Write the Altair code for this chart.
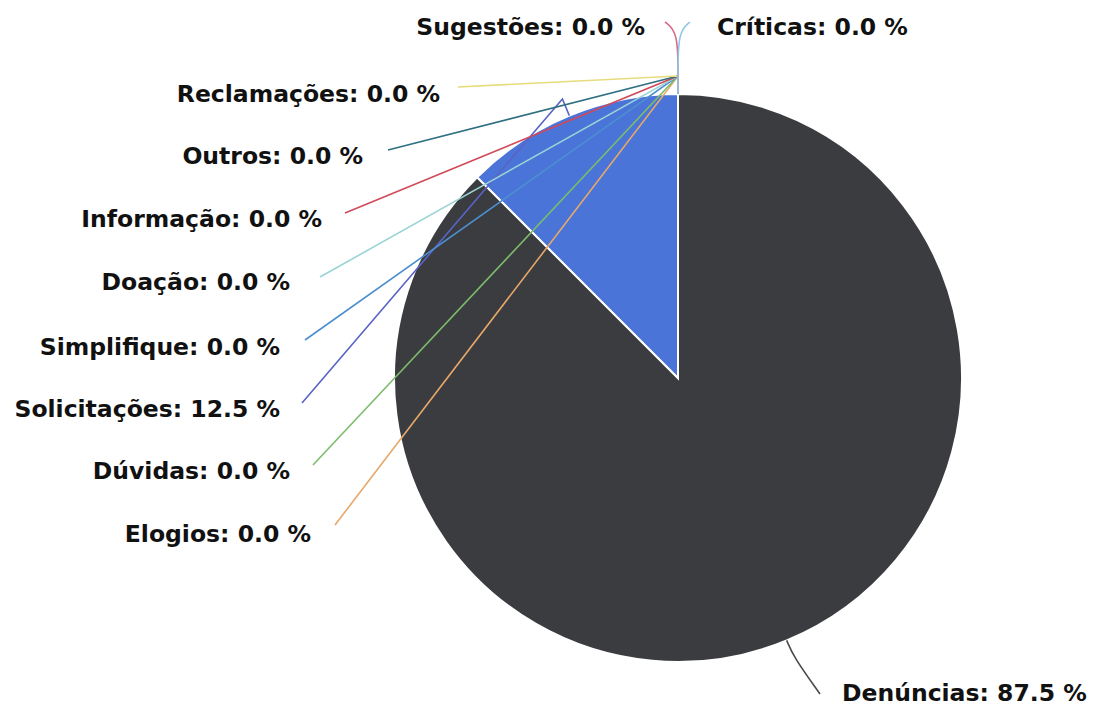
import altair as alt
import pandas as pd
import numpy as np

# ---- data ----
categories = ["Denúncias", "Solicitações", "Elogios", "Dúvidas", "Simplifique",
              "Doação", "Informação", "Outros", "Reclamações", "Sugestões", "Críticas"]
values = [87.5, 12.5, 0.0, 0.0, 0.0, 0.0, 0.0, 0.0, 0.0, 0.0, 0.0]

# ---- styles ----
slice_colors = ["#3b3c40", "#4a74d8", "#e8a868", "#7cbc6c", "#4c8fd0",
                "#9ad4d4", "#d04a5a", "#2f6f82", "#e6dc7a", "#d86a8a", "#8ec8e8"]
line_colors = ["#4a4a4e", "#5a64c4", "#e8a868", "#7cbc6c", "#4c8fd0",
               "#9ad4d4", "#d04a5a", "#2f6f82", "#e6dc7a", "#d86a8a", "#8ec8e8"]

# ---- layout (screen pixels) ----
CX, CY, R = 678, 378, 284
ELBOW = 18
label_pos = {
    "Denúncias": (842, 694, "left", 820, 694),
    "Solicitações": (280, 410, "right", 302, 403),
    "Elogios": (311, 535, "right", 335, 525),
    "Dúvidas": (290, 472, "right", 313, 465),
    "Simplifique": (280, 348, "right", 305, 340),
    "Doação": (290, 283, "right", 320, 277),
    "Informação": (322, 220, "right", 345, 213),
    "Outros": (363, 157, "right", 388, 150),
    "Reclamações": (440, 95, "right", 458, 87),
    "Sugestões": (645, 28, "right", 665, 22),
    "Críticas": (717, 28, "left", 690, 22),
}
curved = {"Denúncias", "Sugestões", "Críticas"}

total = sum(values)
pie_df = pd.DataFrame({"cat": categories, "value": values,
                       "idx": list(range(len(categories))),
                       "cx": CX, "cy": CY})

rows_text = []
rows_line = []
cum = 0.0
for c, v in zip(categories, values):
    mid = (cum + v / 2) / total * 2 * np.pi
    cum += v
    tx, ty, al, ex, ey = label_pos[c]
    rows_text.append({"cat": c, "x": tx, "y": ty, "align": al,
                      "label": f"{c}: {v:.1f} %"})
    pts = [(CX + R * np.sin(mid), CY - R * np.cos(mid)),
           (CX + (R + ELBOW) * np.sin(mid), CY - (R + ELBOW) * np.cos(mid))]
    if c in ("Sugestões", "Críticas"):
        pts.append((CX, ey + 10))
    pts.append((ex, ey))
    for k, (px, py) in enumerate(pts):
        rows_line.append({"cat": c, "k": k, "x": px, "y": py,
                          "curve": c in curved})

text_df = pd.DataFrame(rows_text)
line_df = pd.DataFrame(rows_line)

xs = alt.Scale(domain=[8, 1097], nice=False, zero=False)
ys = alt.Scale(domain=[8, 711], nice=False, zero=False, reverse=True)

pie = alt.Chart(pie_df).mark_arc(outerRadius=R, stroke="white", strokeWidth=2).encode(
    theta=alt.Theta("value:Q", stack=True),
    order=alt.Order("idx:Q"),
    color=alt.Color("cat:N", scale=alt.Scale(domain=categories, range=slice_colors), legend=None),
    x=alt.X("cx:Q", scale=xs, axis=None),
    y=alt.Y("cy:Q", scale=ys, axis=None),
)

line_enc = dict(
    x=alt.X("x:Q", scale=xs, axis=None),
    y=alt.Y("y:Q", scale=ys, axis=None),
    detail="cat:N",
    order=alt.Order("k:Q"),
    stroke=alt.Stroke("cat:N", scale=alt.Scale(domain=categories, range=line_colors), legend=None),
)
lines_straight = alt.Chart(line_df[~line_df["curve"]]).mark_line(strokeWidth=1.6).encode(**line_enc)
lines_curved = alt.Chart(line_df[line_df["curve"]]).mark_line(strokeWidth=1.6, interpolate="basis").encode(**line_enc)

text_common = dict(font="DejaVu Sans", fontWeight="bold", fontSize=23.5, color="#111111", baseline="middle")
text_right = alt.Chart(text_df[text_df["align"] == "right"]).mark_text(align="right", **text_common).encode(
    x=alt.X("x:Q", scale=xs, axis=None), y=alt.Y("y:Q", scale=ys, axis=None), text="label:N")
text_left = alt.Chart(text_df[text_df["align"] == "left"]).mark_text(align="left", **text_common).encode(
    x=alt.X("x:Q", scale=xs, axis=None), y=alt.Y("y:Q", scale=ys, axis=None), text="label:N")

chart = alt.layer(pie, lines_straight, lines_curved, text_right, text_left).resolve_scale(
    color="independent", stroke="independent"
).properties(
    width=1089, height=703, padding=0, autosize=alt.AutoSizeParams(type="none")
).configure_view(stroke=None)

chart.save("out.html", embed_options={"renderer": "svg", "actions": False})
